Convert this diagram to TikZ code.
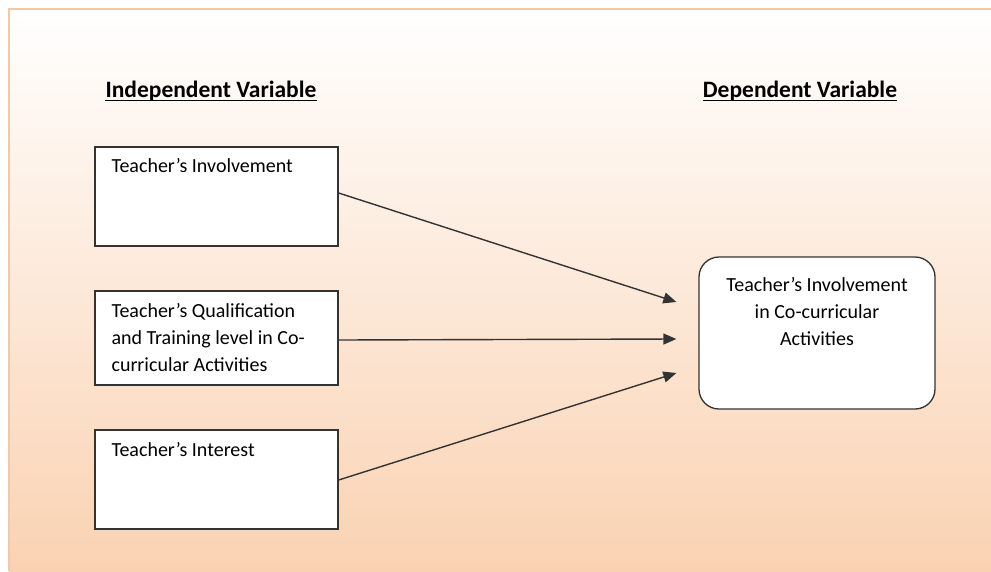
\documentclass[tikz,border=0pt]{standalone}
\usepackage{fontspec}
\setmainfont{Carlito}
\usetikzlibrary{arrows.meta,positioning}
\definecolor{peach}{HTML}{FAD2B2}
\definecolor{framecol}{HTML}{F0C8AA}
\definecolor{ink}{HTML}{333333}

\begin{document}
\begin{tikzpicture}[x=1pt,y=-1pt,
    ivbox/.style={draw=ink,fill=white,line width=1.3pt,minimum width=243pt,inner sep=0pt},
    dvbox/.style={draw=ink,fill=white,line width=1.3pt,rounded corners=20pt,
      minimum width=236pt,minimum height=152pt,inner sep=0pt},
    head/.style={font=\fontsize{23.5}{28}\selectfont\bfseries,inner sep=0pt,anchor=base},
    txt/.style={font=\fontsize{20}{27}\selectfont,inner sep=0pt,anchor=base west,align=left},
    link/.style={draw=ink,line width=1.4pt,-{Triangle[length=13pt,width=11pt]}}]
    \useasboundingbox (0,0) rectangle (991,571);
    % background
    \shade[top color=white,bottom color=peach] (9,9) rectangle (991,571);
    \draw[framecol,line width=1.6pt] (9,571) -- (9,9) -- (991,9);

    % headings
    \node[head] (indep) at (211,97) {Independent Variable};
    \node[head] (dep) at (800,97) {Dependent Variable};
    \draw[line width=1.6pt] ([yshift=-3.5pt]indep.base west) -- ([yshift=-3.5pt]indep.base east);
    \draw[line width=1.6pt] ([yshift=-3.5pt]dep.base west) -- ([yshift=-3.5pt]dep.base east);

    % independent variables
    \node[ivbox,minimum height=99pt] (inv) at (216.5,196.5) {};
    \node[ivbox,minimum height=94pt] (qual) at (216.5,338) {};
    \node[ivbox,minimum height=99pt] (intr) at (216.5,479.5) {};
    \node[txt] (invtxt) at ([shift={(17,26)}]inv.north west) {Teacher’s Involvement};
    % base of a multi-line node is its last line
    \node[txt] (qualtxt) at ([shift={(17,81)}]qual.north west)
      {Teacher’s Qualification\\and Training level in Co-\\curricular Activities};
    \node[txt] (intrtxt) at ([shift={(17,27)}]intr.north west) {Teacher’s Interest};

    % dependent variable
    \node[dvbox] (invol) at (817,333) {};
    \node[txt,anchor=base,align=center] (involtxt) at ([yshift=-12pt]invol.center)
      {Teacher’s Involvement\\in Co-curricular\\Activities};

    % arrows
    \coordinate (t1) at ([shift={(-22,-31)}]invol.west);
    \coordinate (t2) at ([shift={(-22,6)}]invol.west);
    \coordinate (t3) at ([shift={(-22,40)}]invol.west);
    \draw[link] ([yshift=3.5pt]inv.east) -- (t1);
    \draw[link] ([yshift=-2pt]qual.east) -- (t2);
    \draw[link] ([yshift=-0.5pt]intr.east) -- (t3);
\end{tikzpicture}
\end{document}
